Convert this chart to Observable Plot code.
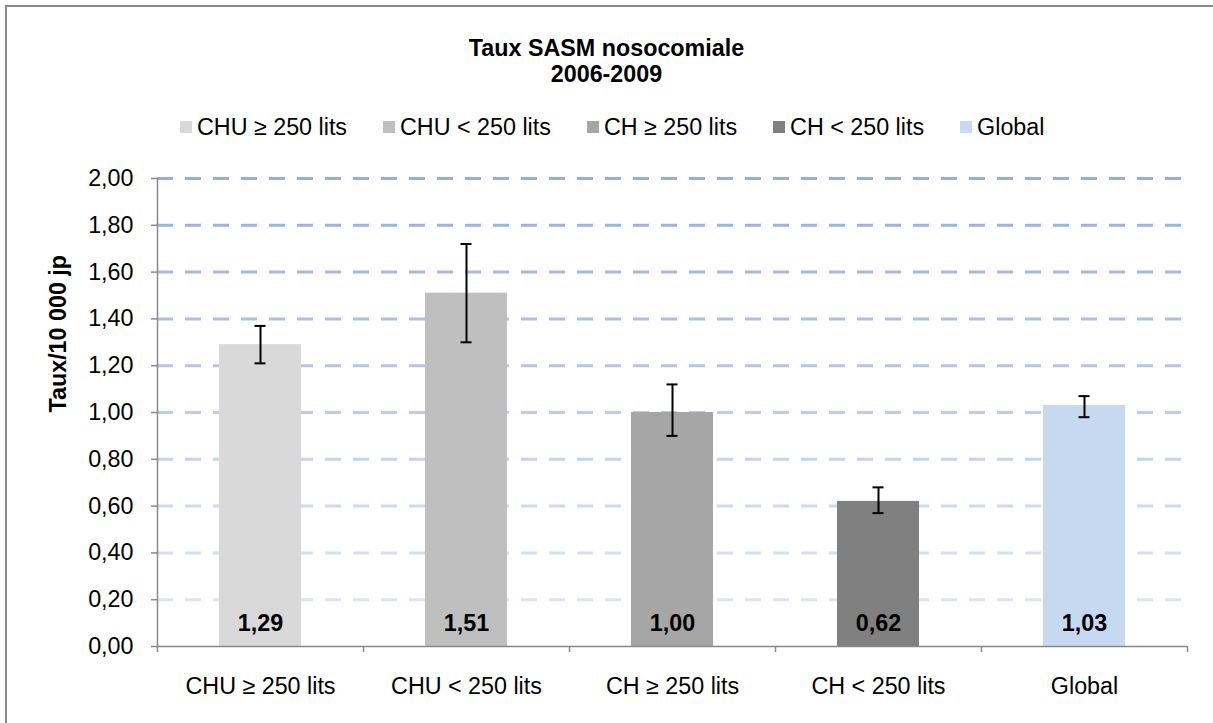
<!DOCTYPE html>
<html>
<head>
<meta charset="utf-8">
<script src="https://cdn.jsdelivr.net/npm/d3@7"></script>
<script src="https://cdn.jsdelivr.net/npm/@observablehq/plot@0.6"></script>
<style>
  html, body { margin: 0; padding: 0; background: #fff; }
  body { width: 1213px; height: 723px; position: relative; overflow: hidden;
         font-family: "Liberation Sans", Arial, sans-serif; color: #000; }
  #frame { position: absolute; left: 5px; top: 5px; width: 1214px; height: 724px;
           border: 2px solid #8c8c8c; box-sizing: border-box; }
  #title { position: absolute; left: 0; width: 1213px; top: 35px; text-align: center;
           font-weight: bold; font-size: 23.3px; line-height: 26px; }
  #legend { position: absolute; left: 180px; top: 114px; display: flex; gap: 36px;
            font-size: 23.3px; line-height: 26px; white-space: nowrap; }
  .item { display: flex; align-items: center; }
  .sw { width: 12px; height: 12px; margin-right: 5px; }
  #chart { position: absolute; left: 0; top: 150px; }
</style>
</head>
<body>
<div id="frame"></div>
<div id="title">Taux SASM nosocomiale<br>2006-2009</div>
<div id="legend"></div>
<div id="chart"></div>
<script>
// ---- data ----
const categories = ["CHU ≥ 250 lits", "CHU < 250 lits", "CH ≥ 250 lits", "CH < 250 lits", "Global"];
const rates      = [1.29, 1.51, 1.00, 0.62, 1.03];
const ciLow      = [1.21, 1.30, 0.90, 0.57, 0.98];
const ciHigh     = [1.37, 1.72, 1.12, 0.68, 1.07];
const colors     = ["#d9d9d9", "#bfbfbf", "#a6a6a6", "#808080", "#c6d9f1"];
const yTicks     = [0, 0.2, 0.4, 0.6, 0.8, 1.0, 1.2, 1.4, 1.6, 1.8, 2.0];
const yLabel     = "Taux/10 000 jp";

const rows = categories.map((c, i) => ({cat: c, rate: rates[i], lo: ciLow[i], hi: ciHigh[i]}));
const fmt = v => v.toFixed(2).replace(".", ",");

// ---- legend ----
const legend = document.getElementById("legend");
categories.forEach((c, i) => {
  const it = document.createElement("div");
  it.className = "item";
  const sw = document.createElement("div");
  sw.className = "sw";
  sw.style.background = colors[i];
  const t = document.createElement("span");
  t.textContent = c;
  it.appendChild(sw); it.appendChild(t);
  legend.appendChild(it);
});

// ---- chart ----
const W = 1213, H = 573, mL = 157, mR = 26, mT = 28, mB = 77;
const step = (W - mL - mR) / categories.length;
const axisGray = "#898989";

const chart = Plot.plot({
  width: W, height: H,
  marginLeft: mL, marginRight: mR, marginTop: mT, marginBottom: mB,
  style: {fontFamily: "'Liberation Sans', Arial, sans-serif", fontSize: "23.3px", color: "#000", background: "transparent", overflow: "visible"},
  x: {domain: categories, paddingInner: 0.6, paddingOuter: 0.3, axis: null},
  y: {domain: [0, 2], axis: null},
  color: {domain: categories, range: colors},
  marks: [
    // dashed gridlines, lighter toward the bottom
    Plot.ruleY(yTicks.filter(v => v > 0), {
      y: d => d, stroke: "#94aee0", strokeWidth: 3, strokeDasharray: "16,12",
      strokeOpacity: d => 0.25 + 0.75 * (d / 2)
    }),
    Plot.barY(rows, {x: "cat", y: "rate", fill: "cat"}),
    // error bars
    Plot.ruleX(rows, {x: "cat", y1: "lo", y2: "hi", stroke: "#000", strokeWidth: 2}),
    Plot.tickY(rows, {x: "cat", y: "lo", stroke: "#000", strokeWidth: 2, insetLeft: 35.5, insetRight: 35.5}),
    Plot.tickY(rows, {x: "cat", y: "hi", stroke: "#000", strokeWidth: 2, insetLeft: 35.5, insetRight: 35.5}),
    // value labels
    Plot.text(rows, {x: "cat", y: 0, text: d => fmt(d.rate), dy: -23, fontWeight: "bold", fill: "#000"}),
    // axes lines
    Plot.ruleY([0], {stroke: axisGray, strokeWidth: 1.5}),
    Plot.ruleX([categories[0]], {x: d => d, y1: 0, y2: yTicks[yTicks.length - 1], dx: -step / 2, stroke: axisGray, strokeWidth: 1.5}),
    // x boundary ticks
    Plot.ruleX(categories, {x: d => d, y1: 0, y2: 0, insetBottom: -6, dx: -step / 2, stroke: axisGray, strokeWidth: 1.5}),
    Plot.ruleX([categories[categories.length - 1]], {x: d => d, y1: 0, y2: 0, insetBottom: -6, dx: step / 2, stroke: axisGray, strokeWidth: 1.5}),
    Plot.axisX({tickSize: 0, tickPadding: 31, label: null, fill: "#000"}),
    Plot.axisY({ticks: yTicks, tickSize: 6, tickPadding: 18, tickFormat: fmt, label: null, stroke: axisGray, fill: "#000", strokeWidth: 1.5}),
    // y title
    Plot.text([yLabel], {frameAnchor: "left", text: d => d, rotate: -90, dx: -99, fontWeight: "bold", fill: "#000"})
  ]
});
document.getElementById("chart").appendChild(chart);
</script>
</body>
</html>
